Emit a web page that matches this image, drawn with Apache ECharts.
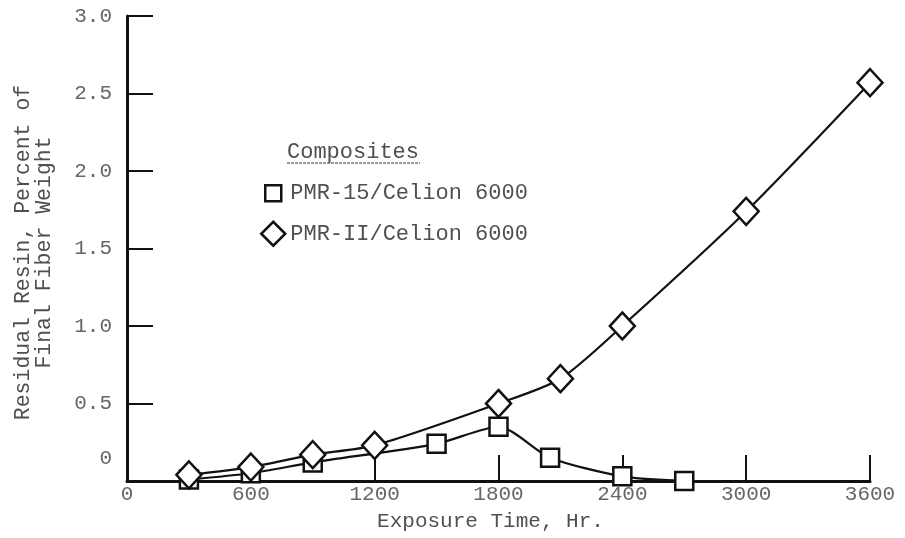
<!DOCTYPE html>
<html>
<head>
<meta charset="utf-8">
<script src="https://cdn.jsdelivr.net/npm/echarts@6/dist/echarts.min.js"></script>
<style>html,body{margin:0;padding:0;background:#fff}#c{width:905px;height:538px}</style>
</head>
<body>
<div id="c"></div>
<script>
// Exposure time, hr (x) and residual resin, % of final fiber weight (y)
var pmr15Hours = [300, 600, 900, 1500, 1800, 2050, 2400, 2700];
var pmr15Resin = [0.01, 0.05, 0.12, 0.24, 0.35, 0.15, 0.03, 0.0];
var pmr2Hours = [300, 600, 900, 1200, 1800, 2100, 2400, 3000, 3600];
var pmr2Resin = [0.04, 0.09, 0.17, 0.23, 0.50, 0.66, 1.0, 1.74, 2.57];
var seriesNames = ['PMR-15/Celion 6000', 'PMR-II/Celion 6000'];
var legendTitle = 'Composites';
var xTitle = 'Exposure Time, Hr.';
var yTitle = 'Residual Resin, Percent of\nFinal Fiber Weight';
var xTicks = [0, 600, 1200, 1800, 2400, 3000, 3600];
var yTicks = [0, 0.5, 1.0, 1.5, 2.0, 2.5, 3.0];

function pairs(xs, ys) { return xs.map(function (x, i) { return [x, ys[i]]; }); }

var mono = '"Liberation Mono", "DejaVu Sans Mono", monospace';
var ink = '#111';
var chart = echarts.init(document.getElementById('c'), null, {renderer: 'canvas'});
chart.setOption({
  backgroundColor: '#fff',
  animation: false,
  grid: {left: 127, right: 35, top: 16, bottom: 57, containLabel: false},
  title: {
    text: legendTitle, left: 282, top: 136,
    textStyle: {fontFamily: mono, fontSize: 22, fontWeight: 'normal', color: '#505050'}
  },
  graphic: [{
    type: 'line', shape: {x1: 287, y1: 163, x2: 420, y2: 163},
    style: {stroke: '#777', lineWidth: 1.5, lineDash: [3, 1]}
  }],
  legend: {
    orient: 'vertical', left: 255, top: 175, itemWidth: 24, itemHeight: 24, itemGap: 14,
    textStyle: {fontFamily: mono, fontSize: 22, color: '#505050'},
    data: [
      {name: seriesNames[0], icon: 'path://M0,0M4,4H20V20H4ZM24,24',
       itemStyle: {color: '#fff', borderColor: ink, borderWidth: 2.5}},
      {name: seriesNames[1], icon: 'diamond',
       itemStyle: {color: '#fff', borderColor: ink, borderWidth: 2.5}}
    ]
  },
  xAxis: {
    type: 'value', min: 0, max: 3600, interval: 600,
    name: xTitle, nameLocation: 'middle', nameGap: 30,
    nameTextStyle: {fontFamily: mono, fontSize: 21, color: '#505050', padding: [0, 16, 0, 0]},
    axisLine: {show: true, onZero: false, lineStyle: {color: ink, width: 3}},
    axisTick: {show: true, inside: true, length: 26, lineStyle: {color: ink, width: 2}},
    axisLabel: {fontFamily: mono, fontSize: 21, color: '#666', margin: 3,
      customValues: xTicks,
      formatter: function (v) { return String(v); }},
    splitLine: {show: false}
  },
  yAxis: {
    type: 'value', min: 0, max: 3, interval: 0.5,
    name: yTitle, nameLocation: 'middle', nameGap: 72, nameRotate: 90,
    nameTextStyle: {fontFamily: mono, fontSize: 21.5, lineHeight: 21, color: '#505050', align: 'center',
      padding: [0, 8, 0, 0]},
    axisLine: {show: true, lineStyle: {color: ink, width: 3}},
    axisTick: {show: true, inside: true, length: 26, lineStyle: {color: ink, width: 2}},
    axisLabel: {
      fontFamily: mono, fontSize: 21, color: '#666', margin: 15,
      customValues: yTicks,
      formatter: function (v) { return v === 0 ? '{z|0}' : v.toFixed(1); },
      rich: {z: {fontFamily: mono, fontSize: 21, color: '#666', padding: [0, 0, 46, 0]}}
    },
    splitLine: {show: false}
  },
  series: [
    {
      name: seriesNames[0], type: 'line', data: pairs(pmr15Hours, pmr15Resin),
      smooth: 0.25, clip: false, symbol: 'rect', symbolSize: 18,
      lineStyle: {color: ink, width: 2.2},
      itemStyle: {color: '#fff', borderColor: ink, borderWidth: 2.5},
      z: 3
    },
    {
      name: seriesNames[1], type: 'line', data: pairs(pmr2Hours, pmr2Resin),
      smooth: 0.25, clip: false, symbol: 'diamond', symbolSize: [25, 27],
      lineStyle: {color: ink, width: 2.2},
      itemStyle: {color: '#fff', borderColor: ink, borderWidth: 2.5},
      z: 4
    }
  ]
});
</script>
</body>
</html>
